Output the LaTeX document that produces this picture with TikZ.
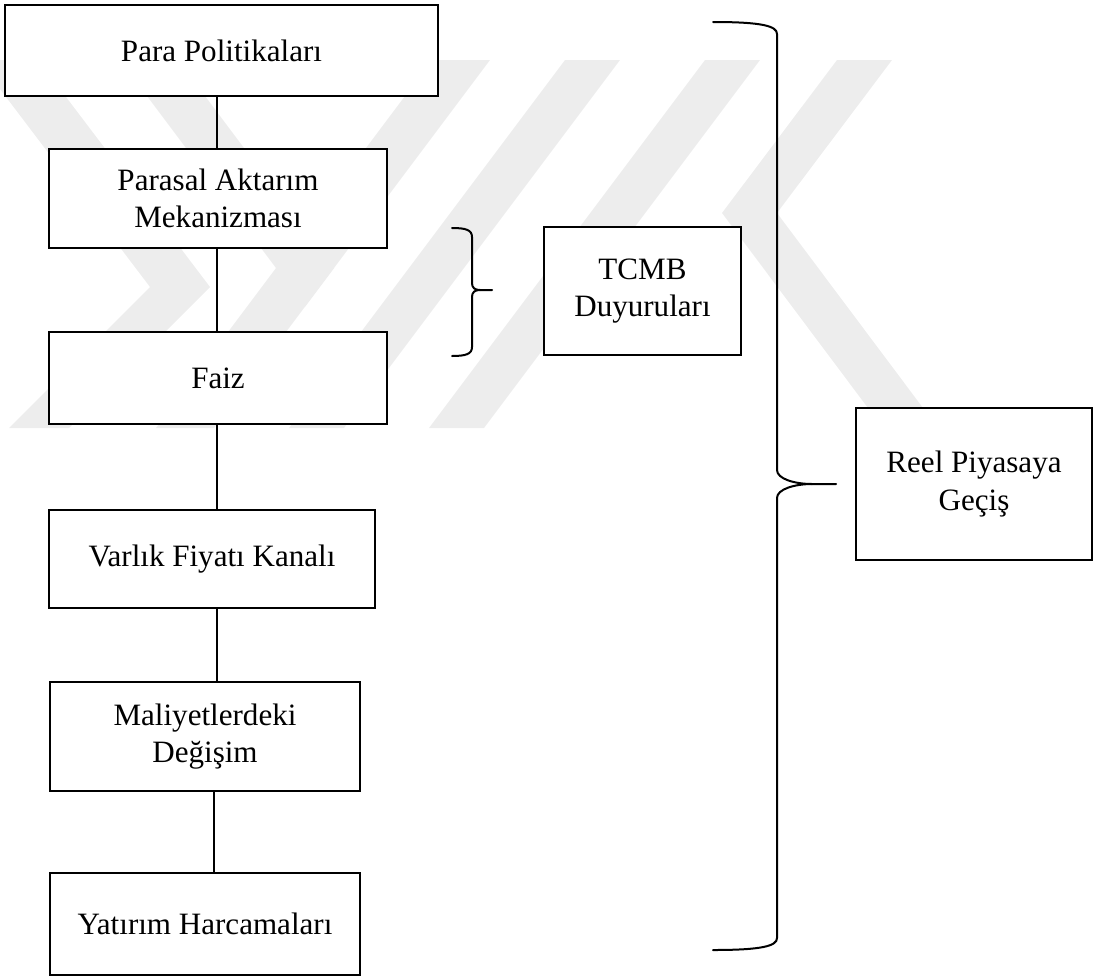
\documentclass[tikz,border=0pt]{standalone}
\usepackage{fontspec}
\setmainfont{Liberation Serif}
\begin{document}
\begin{tikzpicture}[x=0.75pt,y=-0.75pt,
  txt/.style={font=\fontsize{23.3pt}{28pt}\selectfont},
  box/.style 2 args={draw=black, line width=1.6pt, fill=white, inner sep=0pt,
     align=center, txt, minimum width=#1*0.75pt, minimum height=#2*0.75pt},
  link/.style={line width=1.3pt},
  brc/.style={line width=1.5pt, line cap=round, line join=round},
  wm/.style={fill=black!7, draw=none}]
\useasboundingbox (0,0) rectangle (1095,978);
% watermark
\begin{scope}
\clip (0,0) rectangle (1095,978);
\fill[wm] (-22,60) -- (38,60) -- (210,287) -- (69,428) -- (9,428) -- (150,287) -- cycle;
\fill[wm] (120,60) -- (178,60) -- (334,268) -- (305,306.7) -- cycle;
\fill[wm] (432,60) -- (490,60) -- (214,428) -- (156,428) -- cycle;
\fill[wm] (565,60) -- (620,60) -- (344,428) -- (289,428) -- cycle;
\fill[wm] (705,60) -- (760,60) -- (484,428) -- (429,428) -- cycle;
\fill[wm] (837,60) -- (892,60) -- (777,213) -- (938,428) -- (883,428) -- (722,213) -- cycle;
\end{scope}
% boxes
\node[box={433}{91}] (b1) at (221.5,50.5) {Para Politikaları};
\node[box={338}{99}] (b2) at (218,198.5) {Parasal Aktarım\\Mekanizması};
\node[box={338}{92}] (b3) at (218,378) {Faiz};
\node[box={326}{98}] (b4) at (212,559) {Varlık Fiyatı Kanalı};
\node[box={310}{109}] (b5) at (205,736.5) {Maliyetlerdeki\\Değişim};
\node[box={310}{102}] (b6) at (205,924) {Yatırım Harcamaları};
\node[box={197}{128}] (tcmb) at (642.5,291) {TCMB\\Duyuruları};
\node[box={236}{152}] (reel) at (974,484) {Reel Piyasaya\\Geçiş};
% connectors
\coordinate (c1) at (217,0);
\coordinate (c2) at (214,0);
\draw[link] (c1 |- b1.south) -- (c1 |- b2.north);
\draw[link] (c1 |- b2.south) -- (c1 |- b3.north);
\draw[link] (c1 |- b3.south) -- (c1 |- b4.north);
\draw[link] (c1 |- b4.south) -- (c1 |- b5.north);
\draw[link] (c2 |- b5.south) -- (c2 |- b6.north);
% small brace
\draw[brc] (452,228) .. controls (466,228) and (472,230) .. (472,237) -- (472,283)
  .. controls (472,288) and (475,290) .. (480,290) -- (492,290);
\draw[brc] (480,290) .. controls (475,290) and (472,292) .. (472,297) -- (472,347)
  .. controls (472,354) and (466,356) .. (452,356);
% big brace
\draw[brc] (713,22) .. controls (762,22) and (777,26) .. (777,34) -- (777,470)
  .. controls (777,479) and (795,484) .. (812,484) -- (836,484);
\draw[brc] (812,484) .. controls (795,484) and (777,489) .. (777,498) -- (777,938)
  .. controls (777,946) and (762,950) .. (713,950);
\end{tikzpicture}
\end{document}
